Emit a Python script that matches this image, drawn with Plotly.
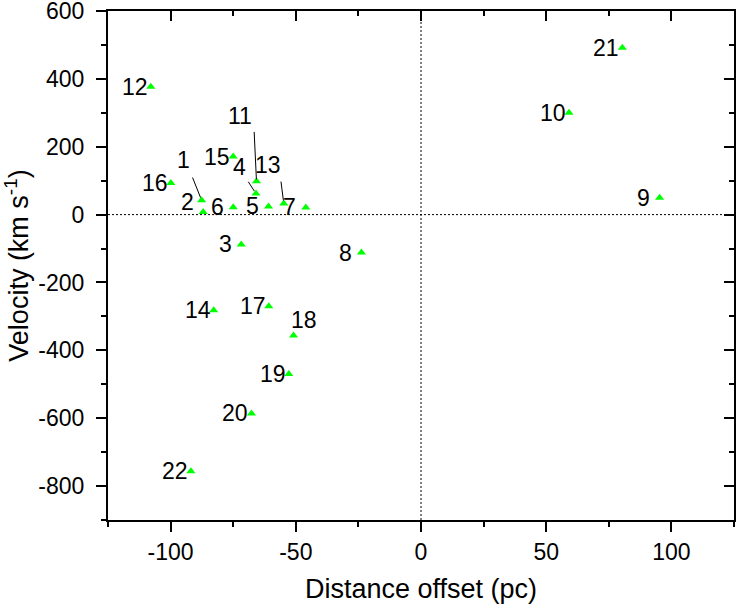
import plotly.graph_objects as go

# ---- data ----
labels = ["1", "2", "3", "4", "5", "6", "7", "8", "9", "10", "11",
          "12", "13", "14", "15", "16", "17", "18", "19", "20", "21", "22"]
distance_pc = [-87.6, -87.0, -71.8, -65.9, -60.9, -75.0, -46.0, -23.8, 95.3, 59.1, -65.7,
               -107.9, -54.8, -82.8, -75.0, -99.9, -60.8, -50.9, -52.8, -67.7, 80.4, -91.9]
velocity_kms = [42, 8, -88, 62, 24, 22, 21, -112, 50, 300, 98,
                377, 33, -282, 171, 93, -270, -356, -470, -586, 492, -756]

x_tickvals = [-100, -50, 0, 50, 100]
x_ticktext = ["-100", "-50", "0", "50", "100"]
y_tickvals = [600, 400, 200, 0, -200, -400, -600, -800]
y_ticktext = ["600", "400", "200", "0", "-200", "-400", "-600", "-800"]

# ---- label placement (pixels relative to each point; style/layout, not data) ----
default_offset = (-16, 0)
label_offsets = {
    "1": (-17.7, 40), "2": (-15.8, 10), "4": (-16, 27), "11": (-16.7, 65),
    "13": (-15.3, 38), "18": (10.8, 15.7),
}
# leader lines: (ax, ay) tail offset in pixels, standoff
leaders = {"1": (-9.7, -24.3, 3), "4": (-8.7, -13.3, 3),
           "11": (-2.4, -51, 2), "13": (-3, -23.3, 3)}

FONT = "Liberation Sans, Arial, sans-serif"

fig = go.Figure()
fig.add_trace(go.Scatter(
    x=distance_pc, y=velocity_kms, mode="markers",
    marker=dict(symbol="triangle-up", size=8, color="#00FF00", line=dict(width=0)),
    showlegend=False, hoverinfo="x+y"))
# invisible trace to host top/right mirror axes
fig.add_trace(go.Scatter(
    x=distance_pc, y=velocity_kms, mode="markers", xaxis="x2", yaxis="y2",
    marker=dict(opacity=0), showlegend=False, hoverinfo="skip"))

annotations = []
for lab, xv, yv in zip(labels, distance_pc, velocity_kms):
    dx, dy = label_offsets.get(lab, default_offset)
    annotations.append(dict(x=xv, y=yv, xref="x", yref="y", text=lab, showarrow=False,
                            xshift=dx, yshift=dy, xanchor="center", yanchor="middle",
                            font=dict(family=FONT, size=23, color="black")))
    if lab in leaders:
        ax, ay, so = leaders[lab]
        annotations.append(dict(x=xv, y=yv, xref="x", yref="y", text="", showarrow=True,
                                arrowhead=0, arrowwidth=1, arrowcolor="black",
                                ax=ax, ay=ay, standoff=so))

axis_common = dict(showgrid=False, zeroline=False, showline=True, linewidth=2,
                   linecolor="black", tickwidth=2, tickcolor="black", ticklen=10,
                   automargin=False)

fig.update_layout(
    width=744, height=608,
    margin=dict(l=108, r=10, t=11, b=88),
    paper_bgcolor="white", plot_bgcolor="white",
    font=dict(family=FONT, size=23, color="black"),
    xaxis=dict(range=[-125, 125], tickmode="array", tickvals=x_tickvals, ticktext=x_ticktext,
               ticks="outside", ticklabeloverflow="allow",
               minor=dict(ticks="outside", dtick=25, tick0=0, ticklen=5, tickwidth=2,
                          tickcolor="black"),
               title=dict(text="Distance offset (pc)", font=dict(size=27), standoff=16),
               tickfont=dict(size=23), **axis_common),
    yaxis=dict(range=[-900, 600], tickmode="array", tickvals=y_tickvals, ticktext=y_ticktext,
               ticks="outside", ticklabelstandoff=7, ticklabeloverflow="allow",
               minor=dict(ticks="outside", dtick=100, tick0=0, ticklen=5, tickwidth=2,
                          tickcolor="black"),
               title=dict(text="Velocity (km s<sup>-1</sup>)", font=dict(size=27), standoff=13),
               tickfont=dict(size=23), **axis_common),
    xaxis2=dict(range=[-125, 125], overlaying="x", side="top", anchor="y2",
                tickmode="array", tickvals=x_tickvals, showticklabels=False, ticks="inside",
                minor=dict(ticks="inside", dtick=25, tick0=0, ticklen=5, tickwidth=2,
                           tickcolor="black"),
                **axis_common),
    yaxis2=dict(range=[-900, 600], overlaying="y", side="right", anchor="x2",
                tickmode="array", tickvals=y_tickvals, showticklabels=False, ticks="inside",
                minor=dict(ticks="inside", dtick=100, tick0=0, ticklen=5, tickwidth=2,
                           tickcolor="black"),
                **axis_common),
    annotations=annotations,
    shapes=[
        dict(type="line", xref="x", yref="paper", x0=0, x1=0, y0=0, y1=1,
             line=dict(color="black", width=1, dash="2px,2px"), layer="below"),
        dict(type="line", xref="paper", yref="y", x0=0, x1=1, y0=0, y1=0,
             line=dict(color="black", width=1, dash="2px,2px"), layer="below"),
    ],
)

fig.write_html("out.html", config={"displayModeBar": False},
               post_script="document.body.style.margin='0';document.body.style.padding='0';")
